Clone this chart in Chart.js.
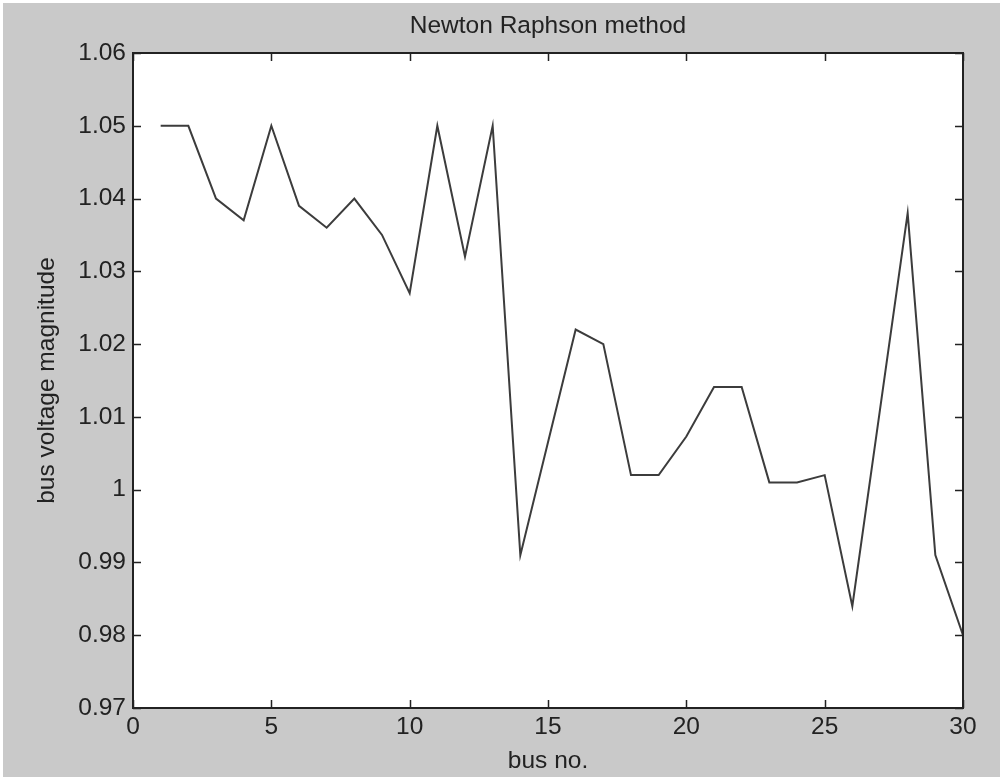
<!DOCTYPE html>
<html>
<head>
<meta charset="utf-8">
<script src="https://cdn.jsdelivr.net/npm/chart.js@4"></script>
<style>
  html, body { margin: 0; padding: 0; background: #fff; }
  canvas { display: block; }
</style>
</head>
<body>
<canvas id="nrChart" width="1000" height="777"></canvas>
<script>
// bus numbers and voltage magnitudes
const busNo = [1, 2, 3, 4, 5, 6, 7, 8, 9, 10, 11, 12, 13, 14, 15,
               16, 17, 18, 19, 20, 21, 22, 23, 24, 25, 26, 27, 28, 29, 30];
const voltage = [1.050, 1.050, 1.040, 1.037, 1.050, 1.039, 1.036, 1.040, 1.035, 1.027,
                 1.050, 1.032, 1.050, 0.991, 1.0065, 1.022, 1.020, 1.002, 1.002, 1.0073,
                 1.0141, 1.0141, 1.001, 1.001, 1.002, 0.984, 1.011, 1.038, 0.991, 0.980];
const xTicks = [0, 5, 10, 15, 20, 25, 30];
const yTicks = [0.97, 0.98, 0.99, 1, 1.01, 1.02, 1.03, 1.04, 1.05, 1.06];

const txtFont = { family: 'Liberation Sans, Arial, sans-serif', size: 24.5 };
const txtColor = '#222';

// gray figure background + white axes box
const figureBg = {
  id: 'figureBg',
  afterLayout(chart) {
    // centre the title over the axes like matlab does
    if (chart.titleBlock) {
      chart.titleBlock.left = chart.chartArea.left;
      chart.titleBlock.right = chart.chartArea.right;
    }
  },
  beforeDraw(chart) {
    const { ctx, chartArea: a } = chart;
    ctx.save();
    ctx.fillStyle = '#c9c9c9';
    ctx.fillRect(3, 3, chart.width - 3, chart.height - 3);
    ctx.fillStyle = '#fff';
    ctx.fillRect(a.left, a.top, a.right - a.left, a.bottom - a.top);
    ctx.restore();
  }
};

// matlab style frame with inward ticks on all four sides
const matlabBox = {
  id: 'matlabBox',
  afterDraw(chart) {
    const { ctx, chartArea: a, scales } = chart;
    const len = 8;
    ctx.save();
    ctx.strokeStyle = '#222';
    ctx.lineWidth = 1.5;
    ctx.beginPath();
    xTicks.forEach(v => {
      const px = Math.round(scales.x.getPixelForValue(v)) + 0.5;
      ctx.moveTo(px, a.bottom); ctx.lineTo(px, a.bottom - len);
      ctx.moveTo(px, a.top); ctx.lineTo(px, a.top + len);
    });
    yTicks.forEach(v => {
      const py = Math.round(scales.y.getPixelForValue(v)) + 0.5;
      ctx.moveTo(a.left, py); ctx.lineTo(a.left + len, py);
      ctx.moveTo(a.right, py); ctx.lineTo(a.right - len, py);
    });
    ctx.stroke();
    ctx.lineWidth = 2;
    ctx.strokeRect(a.left, a.top, a.right - a.left, a.bottom - a.top);
    ctx.restore();
  }
};

new Chart(document.getElementById('nrChart'), {
  type: 'line',
  data: {
    datasets: [{
      data: busNo.map((b, i) => ({ x: b, y: voltage[i] })),
      borderColor: '#3c3c3c',
      borderWidth: 2,
      pointRadius: 0,
      tension: 0,
      fill: false
    }]
  },
  options: {
    responsive: false,
    animation: false,
    layout: { padding: { left: 0, right: 37, top: 0, bottom: 0 } },
    plugins: {
      legend: { display: false },
      tooltip: { enabled: false },
      title: {
        display: true,
        text: 'Newton Raphson method',
        color: txtColor,
        font: { ...txtFont, weight: 'normal', lineHeight: 1.2 },
        padding: { top: 12, bottom: 11.6 }
      }
    },
    scales: {
      x: {
        type: 'linear',
        min: 0, max: 30,
        afterBuildTicks: s => { s.ticks = xTicks.map(v => ({ value: v })); },
        afterFit: s => { s.height = 69; },
        grid: { drawOnChartArea: false, drawTicks: false },
        border: { display: false },
        ticks: { color: txtColor, font: txtFont, padding: 5, maxRotation: 0 },
        title: {
          display: true, text: 'bus no.', color: txtColor, font: txtFont,
          padding: { top: 0, bottom: 1 }
        }
      },
      y: {
        type: 'linear',
        min: 0.97, max: 1.06,
        afterBuildTicks: s => { s.ticks = yTicks.map(v => ({ value: v })); },
        afterFit: s => { s.width = 133; },
        grid: { drawOnChartArea: false, drawTicks: false },
        border: { display: false },
        ticks: {
          color: txtColor, font: txtFont, padding: 7,
          callback: v => String(Number(v.toFixed(2)))
        },
        title: {
          display: true, text: 'bus voltage magnitude', color: txtColor, font: txtFont,
          padding: { top: 33, bottom: 0 }
        }
      }
    }
  },
  plugins: [figureBg, matlabBox]
});
</script>
</body>
</html>
